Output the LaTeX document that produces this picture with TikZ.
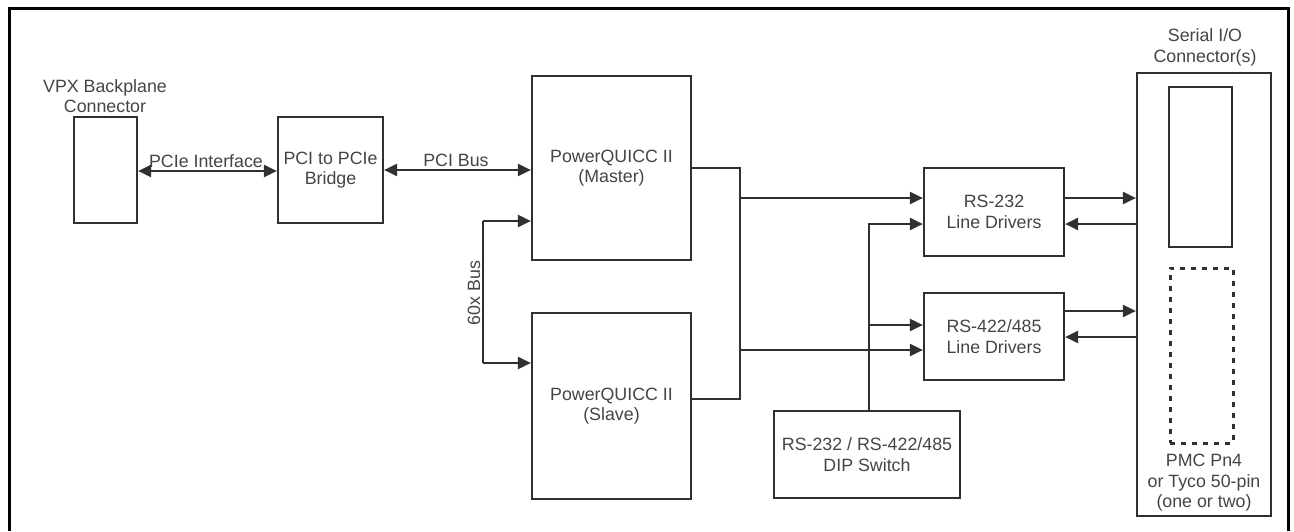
\documentclass[tikz,border=0pt]{standalone}
\usepackage{fontspec}
\setmainfont{Liberation Sans}
\usetikzlibrary{arrows.meta}
\definecolor{ln}{HTML}{303030}
\definecolor{tx}{HTML}{444444}
\begin{document}
\begin{tikzpicture}[x=1pt,y=-1pt,
  txt/.style={text=tx, font=\fontsize{17.8}{20.5}\selectfont, align=center},
  box/.style={txt, draw=ln, line width=2.2pt, rectangle, inner sep=0pt},
  lbl/.style={txt, inner sep=0pt},
  conn/.style={draw=ln, line width=2.2pt},
  arr/.style={conn, -{Triangle[length=13pt,width=12pt]}},
  darr/.style={conn, {Triangle[length=13pt,width=12pt]}-{Triangle[length=13pt,width=12pt]}},
  dashbox/.style={draw=ln, line width=3pt, dash pattern=on 5pt off 6pt, rectangle, inner sep=0pt}
]
\useasboundingbox (0,0) rectangle (1294,531);
% outer frame (bottom edge is outside the picture)
\draw[black, line width=3pt] (9,531) -- (9,8) -- (1288,8) -- (1288,531);

% boxes
\node[box, minimum width=63pt, minimum height=106pt] (vpx) at (105.5,170) {};
\node[box, minimum width=105pt, minimum height=106pt] (bridge) at (330.5,170) {PCI to PCIe\\Bridge};
\node[box, minimum width=159pt, minimum height=184pt] (master) at (611.5,168) {PowerQUICC II\\(Master)};
\node[box, minimum width=159pt, minimum height=186pt] (slave) at (611.5,406) {PowerQUICC II\\(Slave)};
\node[box, minimum width=140pt, minimum height=88pt] (rs232) at (994,212) {RS-232\\Line Drivers};
\node[box, minimum width=140pt, minimum height=87pt] (rs422) at (994,336.5) {RS-422/485\\Line Drivers};
\node[box, minimum width=186pt, minimum height=87pt] (dip) at (867,454.5) {RS-232 / RS-422/485\\DIP Switch};
\node[box, minimum width=134pt, minimum height=443pt] (serial) at (1204,294.5) {};
\node[box, minimum width=63pt, minimum height=160pt] (conn1) at (1200.5,167) {};
\node[dashbox, minimum width=63pt, minimum height=175pt] (conn2) at (1201.5,355.5) {};

% labels
\node[lbl] (vpxlbl) at (105,96) {VPX Backplane\\Connector};
\node[lbl] (serlbl) at (1205,47.5) {Serial I/O\\Connector(s)};
\node[lbl] (pmclbl) at (1204,483) {PMC Pn4\\or Tyco 50-pin\\(one or two)};
\node[lbl] (pcielbl) at (206,161) {PCIe Interface};
\node[lbl] (pcilbl) at (456,160) {PCI Bus};

% PCIe and PCI buses
\draw[darr] (vpx.east |- 0,171) -- (bridge.west |- 0,171);
\draw[darr] (bridge.east |- 0,170) -- (master.west |- 0,170);

% 60x bus
\coordinate (b60a) at (483,221);
\coordinate (b60b) at (483,363);
\draw[arr] (b60a) -- (master.west |- b60a);
\draw[arr] (b60b) -- (slave.west |- b60b);
\draw[conn] (b60a) -- (b60b);
\node[lbl, rotate=90] (bus60lbl) at (474,293) {60x Bus};

% processor outputs
\coordinate (mo) at (740,168);
\coordinate (so) at (740,399);
\draw[conn] (master.east |- mo) -- (mo) -- (so) -- (slave.east |- so);
\draw[arr] (740,198) -- (rs232.west |- 0,198);
\draw[arr] (740,350) -- (rs422.west |- 0,350);

% DIP switch
\coordinate (dtop) at (869,224);
\draw[arr] (dip.north -| dtop) -- (dtop) -- (rs232.west |- dtop);
\draw[arr] (869,325) -- (rs422.west |- 0,325);

% line drivers to connectors
\draw[arr] (rs232.east |- 0,198) -- (serial.west |- 0,198);
\draw[arr] (serial.west |- 0,224) -- (rs232.east |- 0,224);
\draw[arr] (rs422.east |- 0,311) -- (serial.west |- 0,311);
\draw[arr] (serial.west |- 0,337) -- (rs422.east |- 0,337);
\end{tikzpicture}
\end{document}
